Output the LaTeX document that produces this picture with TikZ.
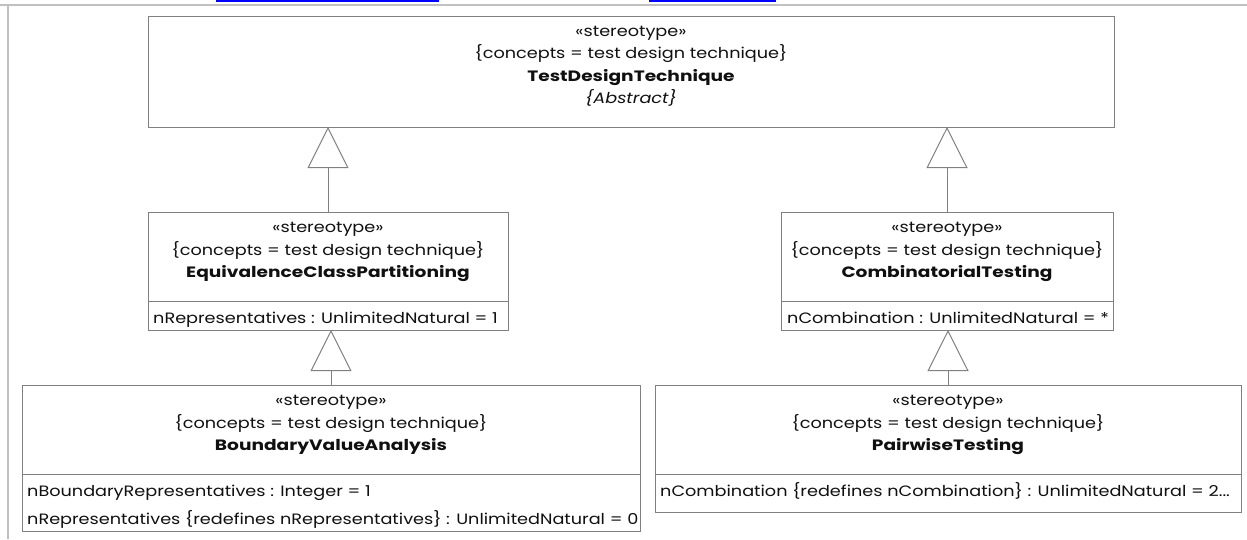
\documentclass[tikz,border=0pt]{standalone}
\usepackage{fontspec}
\setmainfont{Poppins}[FakeStretch=1.178, BoldFeatures={FakeStretch=1.24}]
\usetikzlibrary{arrows.meta}
\definecolor{boxgray}{HTML}{808080}
\definecolor{framegray}{HTML}{C0C0C0}
\definecolor{txtcol}{HTML}{101010}
\definecolor{linkblue}{HTML}{0000FF}
\begin{document}
\begin{tikzpicture}[x=1pt,y=-1pt,
  box/.style={draw=boxgray, line width=1pt, anchor=north west, inner sep=0pt, outer sep=0pt},
  sep/.style={draw=boxgray, line width=1pt},
  gen/.style={draw=boxgray, line width=1pt, -{Triangle[length=41pt,width=41pt,fill=white]}},
  txt/.style={text=txtcol, font=\fontsize{15}{18}\selectfont, inner sep=0pt, anchor=base},
  attr/.style={txt, anchor=base west},
  title/.style={txt, font=\fontsize{15}{18}\selectfont\bfseries}
]
\useasboundingbox (0,0) rectangle (1247,539);
\fill[white] (0,0) rectangle (1247,539);
% frame
\draw[framegray, line width=2pt] (0,5) -- (1247,5);
\draw[framegray, line width=2pt] (7.5,5) -- (7.5,539);
\draw[linkblue, line width=2pt] (216,1) -- (439,1);
\draw[linkblue, line width=2pt] (649,1) -- (776,1);

% boxes
\node[box, minimum width=966pt, minimum height=111pt] (tdt) at (148,16) {};
\node[box, minimum width=360pt, minimum height=118pt] (ecp) at (148,212) {};
\node[box, minimum width=332pt, minimum height=118pt] (ct) at (781,212) {};
\node[box, minimum width=618pt, minimum height=146pt] (bva) at (22,385) {};
\node[box, minimum width=586pt, minimum height=127pt] (pt) at (655,385) {};

% separators
\draw[sep] (148,301) -- (508,301);
\draw[sep] (781,301) -- (1113,301);
\draw[sep] (22,474) -- (640,474);
\draw[sep] (655,474) -- (1241,474);

% TestDesignTechnique
\node[txt] (tdt1) at (631,36) {«stereotype»};
\node[txt] (tdt2) at (631,58.5) {\{concepts = test design technique\}};
\node[title] (tdt3) at (631,81) {TestDesignTechnique};
\node[txt] (tdt4) at (631,103.5) {\itshape\{Abstract\}};

% EquivalenceClassPartitioning
\node[txt] (ecp1) at (328,232.5) {«stereotype»};
\node[txt] (ecp2) at (328,255) {\{concepts = test design technique\}};
\node[title] (ecp3) at (328,277.5) {EquivalenceClassPartitioning};
\node[attr] (ecp4) at (153,323) {nRepresentatives : UnlimitedNatural = 1};

% CombinatorialTesting
\node[txt] (ct1) at (947,232.5) {«stereotype»};
\node[txt] (ct2) at (947,255) {\{concepts = test design technique\}};
\node[title] (ct3) at (947,277.5) {CombinatorialTesting};
\node[attr] (ct4) at (787,323) {nCombination : UnlimitedNatural = *};

% BoundaryValueAnalysis
\node[txt] (bva1) at (331,405.5) {«stereotype»};
\node[txt] (bva2) at (331,428) {\{concepts = test design technique\}};
\node[title] (bva3) at (331,450.5) {BoundaryValueAnalysis};
\node[attr] (bva4) at (27,496) {nBoundaryRepresentatives : Integer = 1};
\node[attr] (bva5) at (27,524) {nRepresentatives \{redefines nRepresentatives\} : UnlimitedNatural = 0};

% PairwiseTesting
\node[txt] (pt1) at (948,405.5) {«stereotype»};
\node[txt] (pt2) at (948,428) {\{concepts = test design technique\}};
\node[title] (pt3) at (948,450.5) {PairwiseTesting};
\node[attr] (pt4) at (660,496) {nCombination \{redefines nCombination\} : UnlimitedNatural = 2...};

% generalizations
\draw[gen] (ecp.north) -- (ecp.north |- tdt.south);
\draw[gen] (ct.north) -- (ct.north |- tdt.south);
\draw[gen] (bva.north) -- (bva.north |- ecp.south);
\draw[gen] (pt.north) -- (pt.north |- ct.south);
\end{tikzpicture}
\end{document}
